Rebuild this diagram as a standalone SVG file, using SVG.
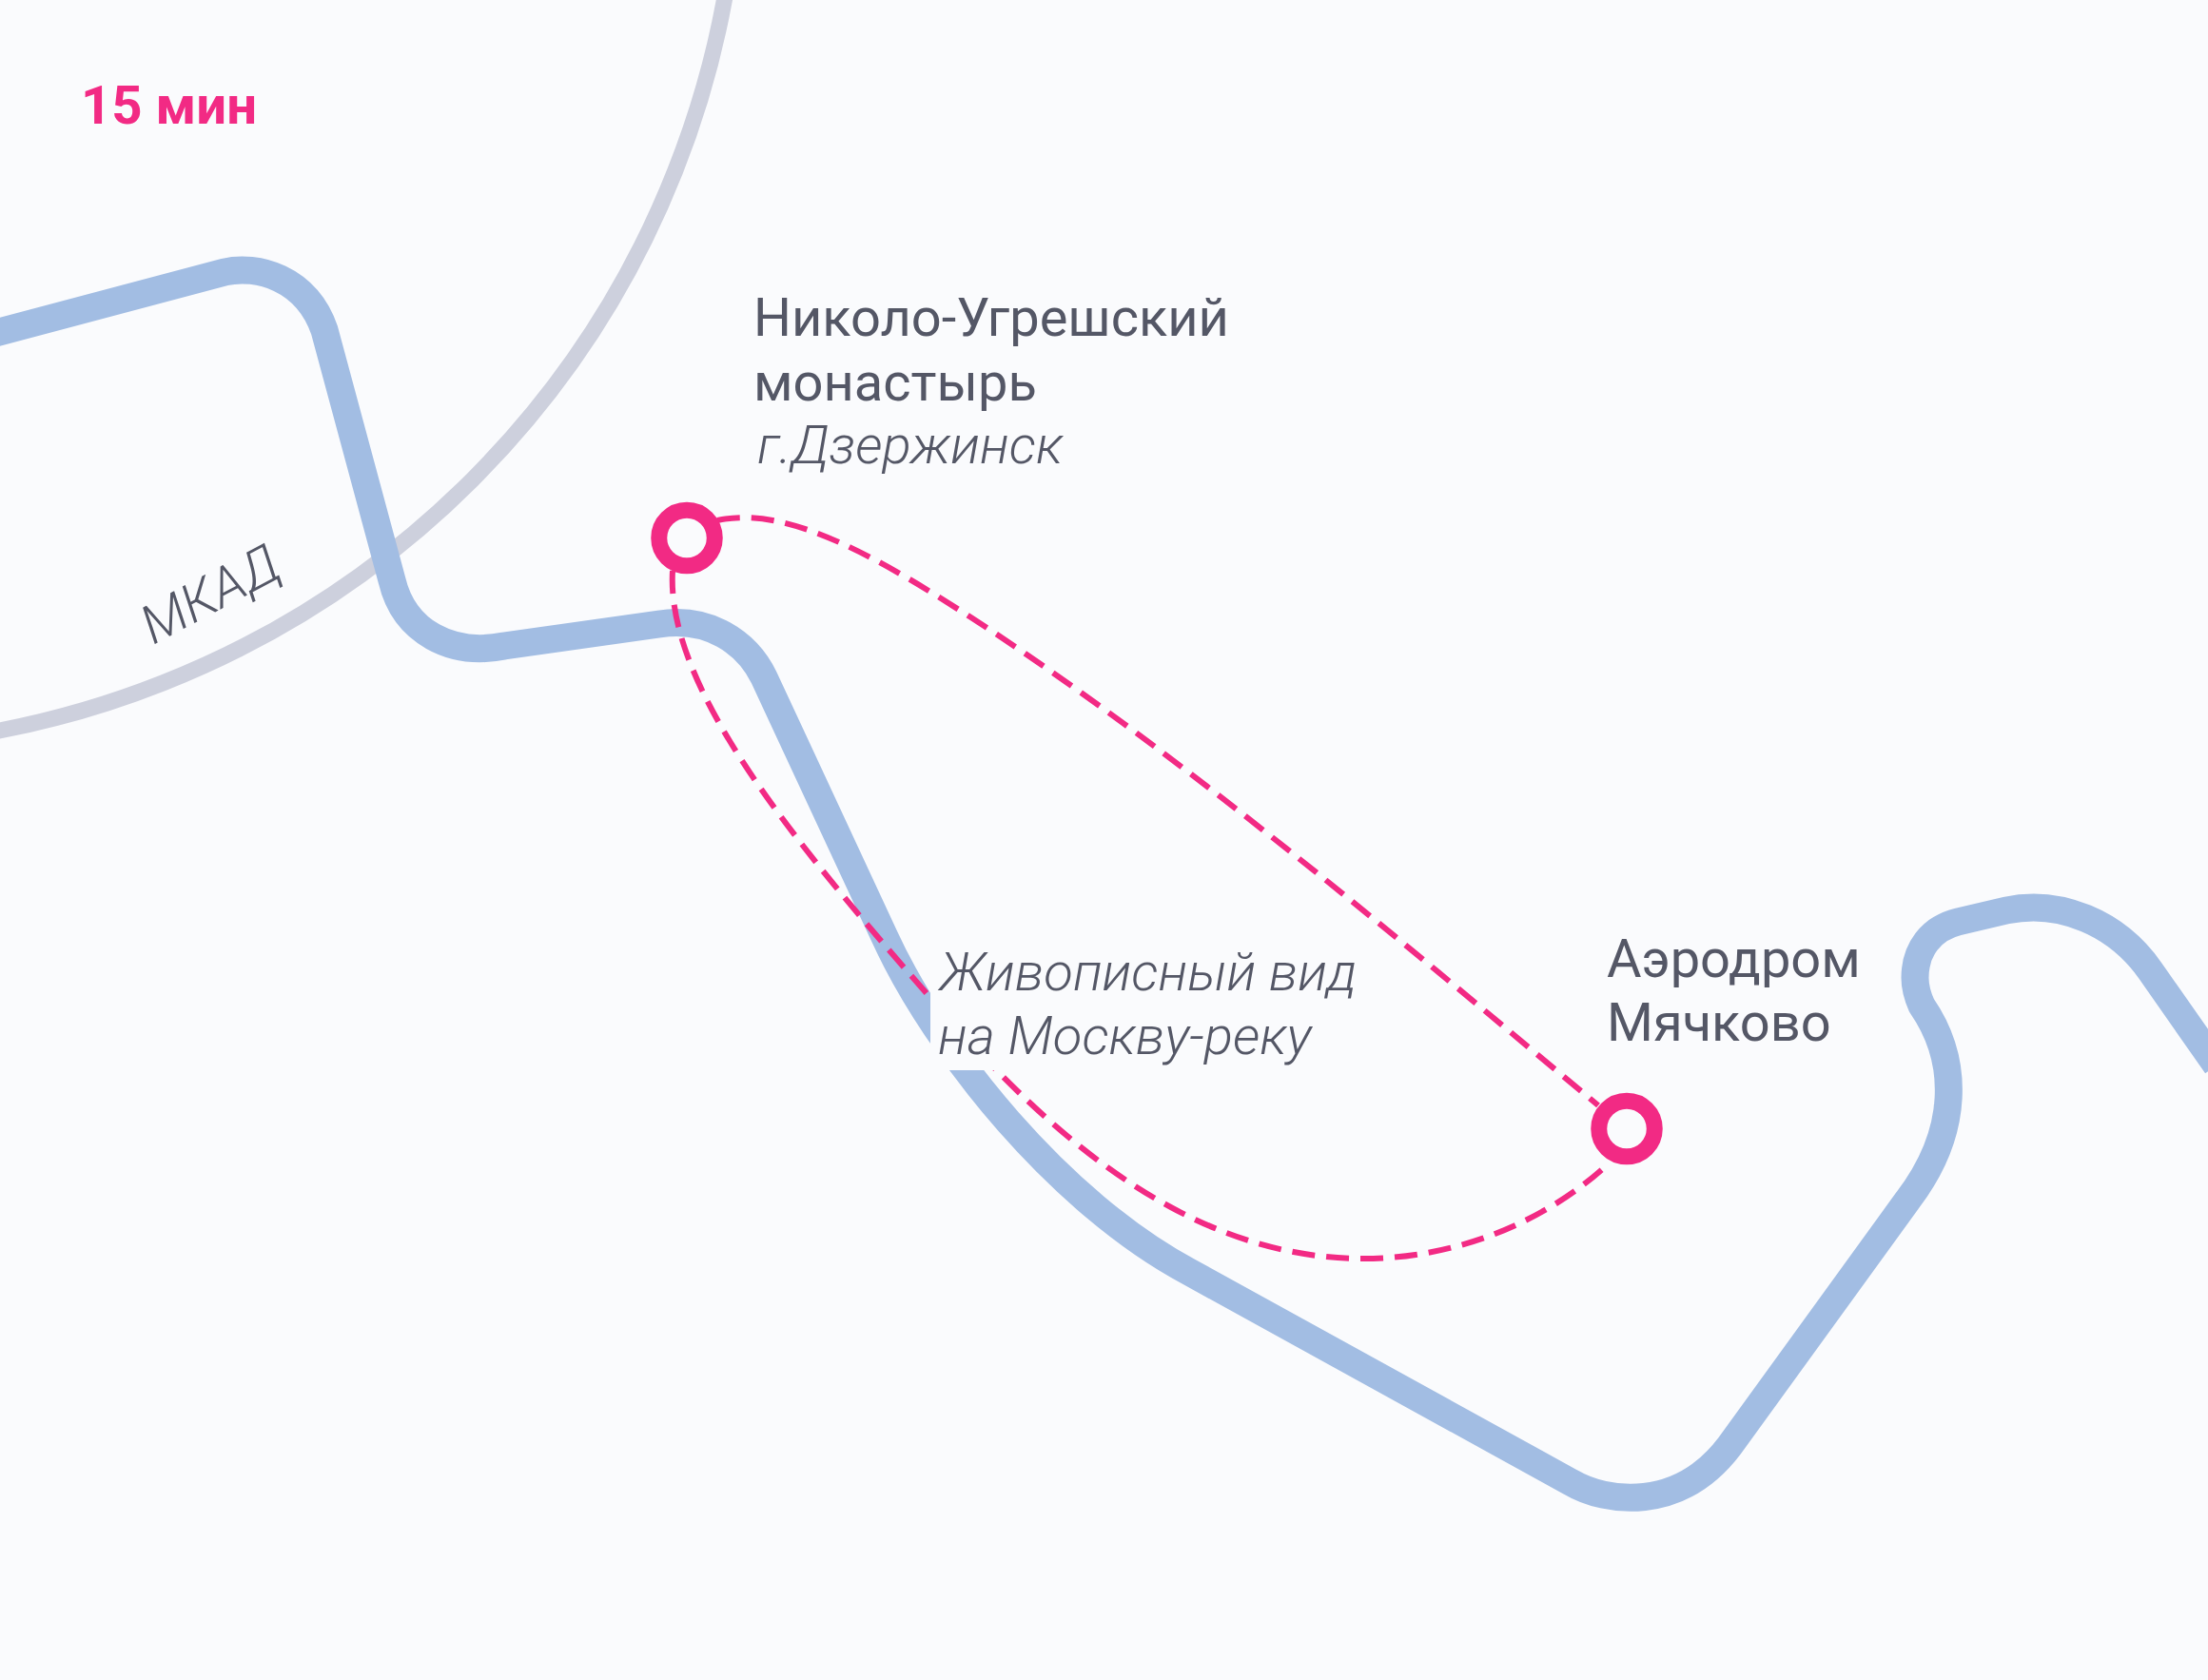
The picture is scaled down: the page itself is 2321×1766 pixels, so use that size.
<svg xmlns="http://www.w3.org/2000/svg" width="2321" height="1766" viewBox="0 0 2321 1766">
<style>
text{font-family:Roboto,"Liberation Sans",sans-serif;fill:#545766}
.t{font-size:56px;font-weight:400}
.i{font-size:56.3px;font-weight:300;font-style:italic}
.d{fill:none;stroke:#F22A84;stroke-width:6;stroke-dasharray:24 12}
.s{fill:#FAFBFD;stroke:#F22A84;stroke-width:17}
</style>
<rect width="2321" height="1766" fill="#FAFBFD"/>
<g id="connectors">
<circle id="mkad" cx="-181" cy="-173" r="958" fill="none" stroke="#CDD0DD" stroke-width="17"/>
<path id="river" d="M-5,350 L236,286 C270,278 322,292 341,347 L412,610 C425,665 475,690 530,679 L693,656 C745,648 785,675 803,712 L930,985 C985,1105 1115,1265 1250,1337 L1651,1558 C1688,1580 1765,1590 1818,1520 L2005,1262 C2060,1190 2060,1115 2020,1057 C2016,1048 2013,1040 2013,1028 C2013,998 2030,976 2058,969 L2109,957 C2165,945 2225,970 2260,1020 L2330,1120" fill="none" stroke="#A2BDE3" stroke-width="29"/>
<path class="d" d="M707,600 C700,720 830,880 973,1043 C1090,1180 1240,1323 1433,1323 C1530,1323 1625,1285 1692,1222"/>
<path class="d" d="M754,547 C830,530 930,590 1036,659 C1250,800 1480,995 1680,1162"/>
</g>
<g id="label-view">
<rect x="978" y="995" width="450" height="130" fill="#FAFBFD"/>
<text class="i" x="988" y="1041">Живописный вид</text>
<text class="i" x="986" y="1108">на Москву-реку</text>
</g>
<g id="node-monastery">
<circle class="s" cx="722" cy="565.5" r="29.25"/>
<text class="t" x="792" y="353">Николо-Угрешский</text>
<text class="t" x="792" y="421">монастырь</text>
<text class="i" x="796" y="487">г.Дзержинск</text>
</g>
<g id="node-airfield">
<circle class="s" cx="1710" cy="1186.5" r="29.25"/>
<text class="t" x="1689" y="1027">Аэродром</text>
<text class="t" x="1689" y="1094">Мячково</text>
</g>
<text id="label-mkad" class="i" transform="translate(161,678) rotate(-28)" style="font-size:56px">МКАД</text>
<text id="time" x="85" y="130" style="font-size:56.3px;font-weight:700;fill:#F22A84">15 мин</text>
</svg>
